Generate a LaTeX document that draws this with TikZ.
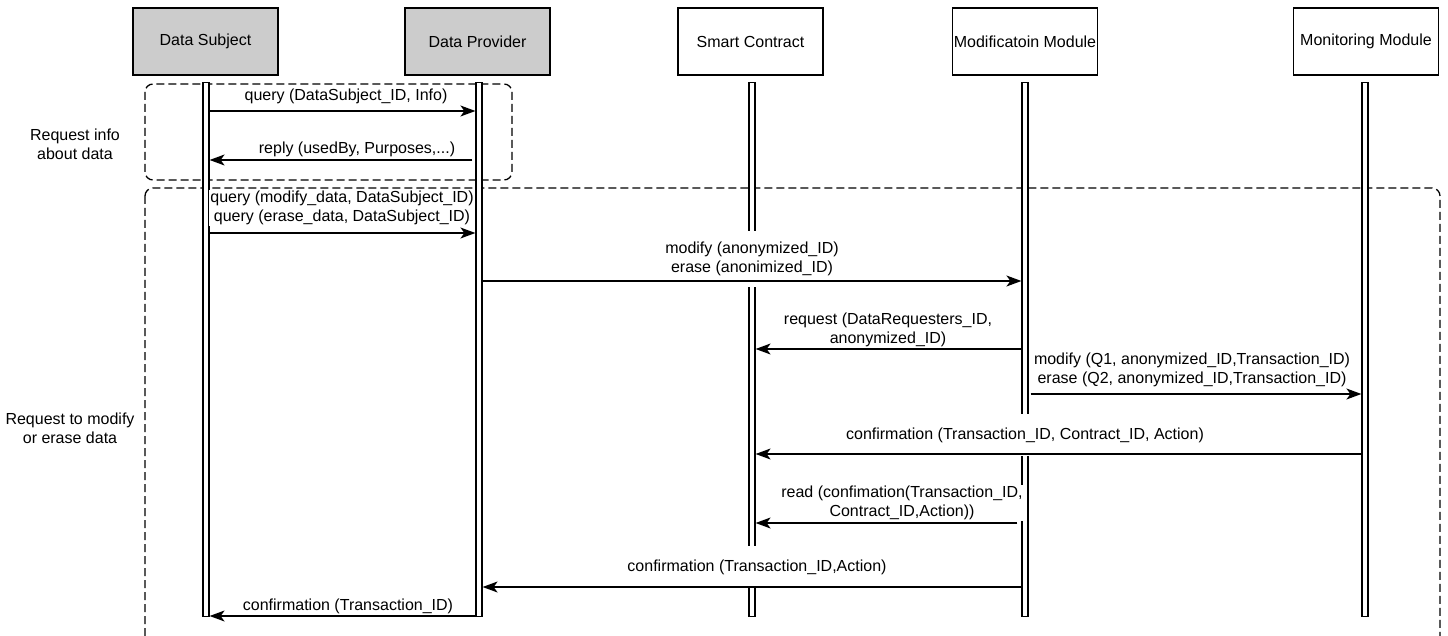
\documentclass[tikz,border=0pt]{standalone}
\usepackage{fontspec}
\setmainfont{Liberation Sans}
\usetikzlibrary{arrows.meta}
\begin{document}
\begin{tikzpicture}[x=1pt,y=-1pt,
  font=\fontsize{16}{19}\selectfont,
  head/.style={draw, line width=1.2pt, minimum width=145pt, minimum height=67pt, inner sep=0pt},
  grayhead/.style={head, fill=black!20},
  bar/.style={draw, fill=white, line width=1.2pt, minimum width=6pt, minimum height=534pt, inner sep=0pt, anchor=north},
  frame/.style={draw, dash pattern=on 8pt off 4pt, line width=1.3pt, rounded corners=8pt},
  msg/.style={line width=1.4pt, -{Stealth[length=15pt,width=11pt,inset=4pt]}},
  lbl/.style={fill=white, inner xsep=1pt, inner ysep=1pt, align=center},
  side/.style={align=center}
]
\useasboundingbox (0,0) rectangle (1448,636);
\clip (0,0) rectangle (1448,636);

% frames
\draw[frame] (145,84) rectangle (512,180);
\draw[frame] (145,188) rectangle (1440,650);

% side labels
\node[side] (sideA) at (75,144) {Request info\\about data};
\node[side] (sideB) at (70,428) {Request to modify\\or erase data};

% headers
\node[grayhead] (ds) at (205.5,41.5) {Data Subject};
\node[grayhead] (dp) at (477.5,41.5) {Data Provider};
\node[head] (sc) at (750.5,41.5) {Smart Contract};
\node[head] (mm) at (1025,41.5) {Modificatoin Module};
\node[head] (mo) at (1366,41.5) {Monitoring Module};

% activation bars
\node[bar] (dsb) at (206,82) {};
\node[bar] (dpb) at (479,82) {};
\node[bar] (scb) at (752,82) {};
\node[bar] (mmb) at (1025,82) {};
\node[bar] (mob) at (1365,82) {};

% labels
\node[lbl] (l1) at (346,96) {query (DataSubject\_ID, Info)};
\node[lbl] (l2) at (357,149) {reply (usedBy, Purposes,...)};
\node[lbl] (l3) at (342,208) {query (modify\_data, DataSubject\_ID)\\query (erase\_data, DataSubject\_ID)};
\node[lbl, minimum height=56pt] (l4) at (752,259) {modify (anonymized\_ID)\\erase (anonimized\_ID)};
\node[lbl] (l5) at (888,330) {request (DataRequesters\_ID,\\anonymized\_ID)};
\node[lbl] (l6) at (1192,370) {modify (Q1, anonymized\_ID,Transaction\_ID)\\erase (Q2, anonymized\_ID,Transaction\_ID)};
\node[lbl, minimum height=42pt] (l7) at (1025,435) {confirmation (Transaction\_ID, Contract\_ID, Action)};
\node[lbl] (l8) at (902,503) {read (confimation(Transaction\_ID,\\Contract\_ID,Action))};
\node[lbl, minimum height=42pt] (l9) at (757,567) {confirmation (Transaction\_ID,Action)};
\node[lbl] (l10) at (348,606) {confirmation (Transaction\_ID)};

% messages
\draw[msg] (dsb.east |- 0,111) -- (dpb.west |- 0,111);
\draw[msg] ([xshift=-3pt]dpb.west |- 0,160) -- (dsb.east |- 0,160);
\draw[msg] (dsb.east |- 0,233) -- (dpb.west |- 0,233);
\draw[msg] (dpb.east |- 0,281) -- (mmb.west |- 0,281);
\draw[msg] (mmb.west |- 0,349) -- (scb.east |- 0,349);
\draw[msg] ([xshift=2pt]mmb.east |- 0,394) -- (mob.west |- 0,394);
\draw[msg] (mob.west |- 0,454) -- (scb.east |- 0,454);
\draw[msg] ([xshift=-4pt]mmb.west |- 0,523) -- (scb.east |- 0,523);
\draw[msg] (mmb.west |- 0,587) -- (dpb.east |- 0,587);
\draw[msg] (dpb.west |- 0,616) -- (dsb.east |- 0,616);
\end{tikzpicture}
\end{document}
